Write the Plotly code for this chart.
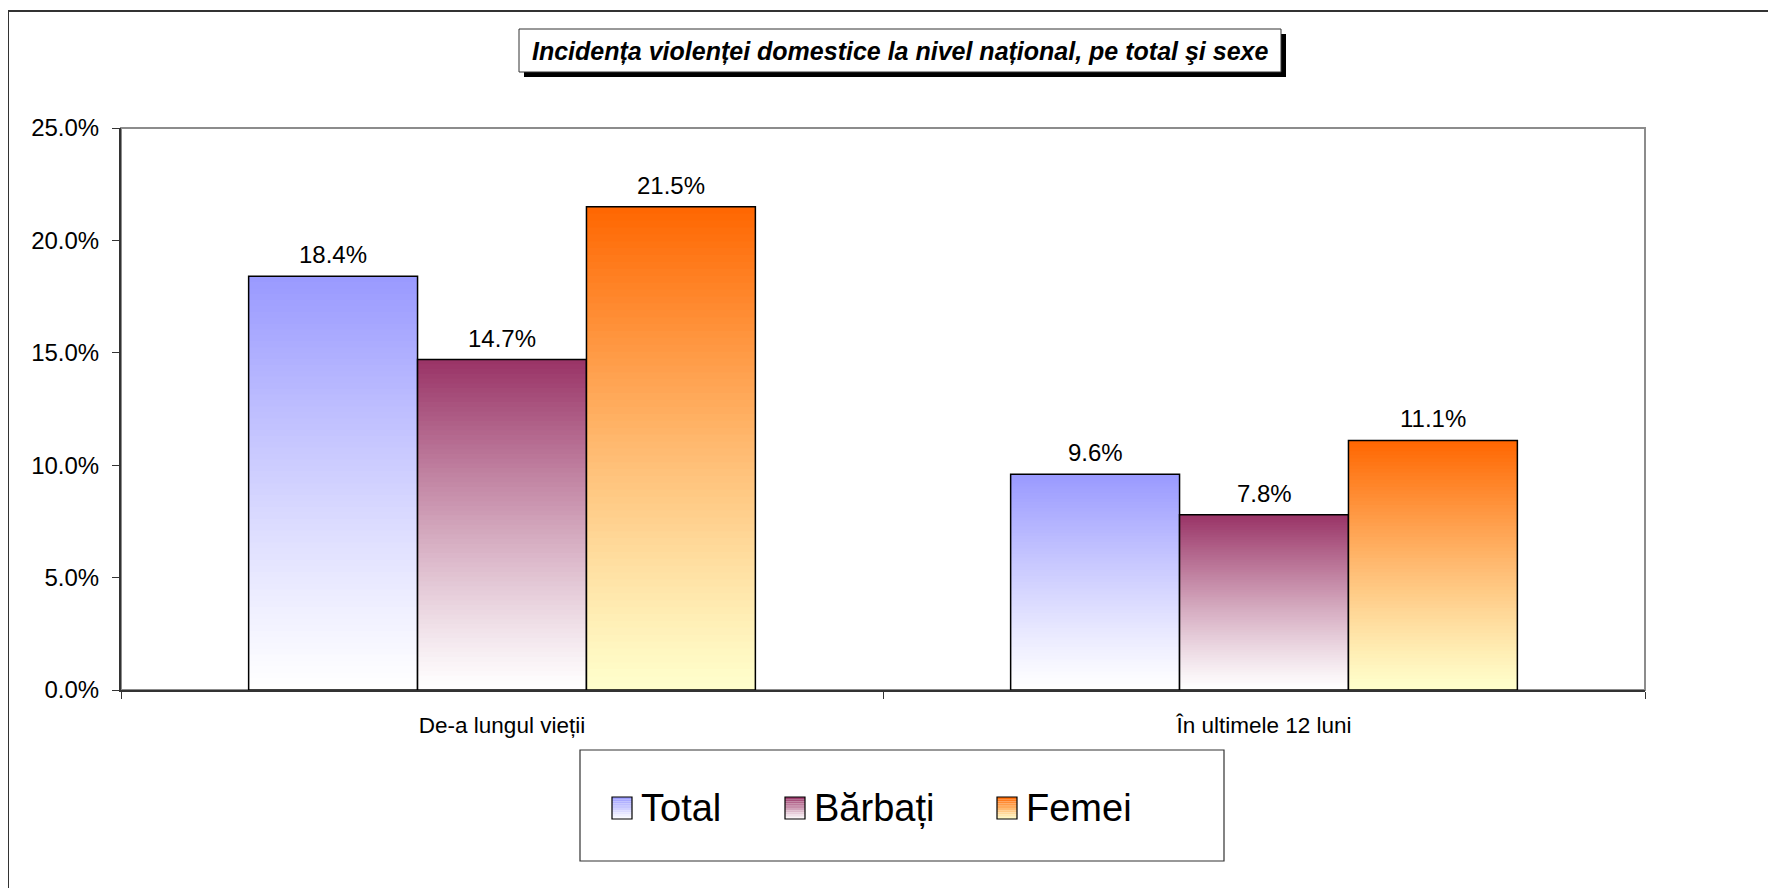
import plotly.graph_objects as go

categories = ["De-a lungul vieții", "În ultimele 12 luni"]
series_names = ["Total", "Bărbați", "Femei"]
total = [0.184, 0.096]
barbati = [0.147, 0.078]
femei = [0.215, 0.111]
y_ticks = [0, 0.05, 0.10, 0.15, 0.20, 0.25]

values = [total, barbati, femei]
top_colors = [(0x99, 0x99, 0xFF), (0x99, 0x33, 0x66), (0xFF, 0x66, 0x00)]
bottom_colors = [(0xFF, 0xFF, 0xFF), (0xFF, 0xFF, 0xFF), (0xFF, 0xFF, 0xCC)]

W, H = 1776, 888
OFF = 8  # page body margin
L, T = 121 - OFF, 128 - OFF
pw, ph = 1524, 562
R, B = W - L - pw, H - T - ph
BARGAP = 0.335


def px(x):
    return (x - OFF - L) / pw


def py(y):
    return (T + ph - (y - OFF)) / ph


def mix(c0, c1, t):
    return "rgb(%d,%d,%d)" % tuple(round(a + (b - a) * t) for a, b in zip(c0, c1))


FONT = "Liberation Sans, Arial, sans-serif"
N = 70
fig = go.Figure()
annotations = []
slot = (1 - BARGAP) / len(series_names)

for s, (name, vals) in enumerate(zip(series_names, values)):
    for k in range(N):
        t = ((k + 0.5) / N) ** 1.15
        bases = [v * k / N for v in vals]
        fig.add_trace(go.Bar(
            x=categories,
            y=[min(2 * v / N, v - b) for v, b in zip(vals, bases)],
            base=bases,
            offsetgroup=str(s),
            marker=dict(color=mix(bottom_colors[s], top_colors[s], t), line=dict(width=0)),
            showlegend=False, hoverinfo="skip",
        ))
    fig.add_trace(go.Bar(
        x=categories, y=vals, offsetgroup=str(s), name=name,
        marker=dict(color="rgba(0,0,0,0)", line=dict(color="black", width=1.5)),
        showlegend=False,
    ))
    for i, v in enumerate(vals):
        annotations.append(dict(
            x=i + (s - 1) * slot, y=v, xref="x", yref="y", text=f"{v * 100:.1f}%",
            showarrow=False, xanchor="center", yanchor="bottom", yshift=6,
            font=dict(size=24, color="black", family=FONT),
        ))

shapes = [
    dict(type="rect", xref="paper", yref="paper", x0=px(8), x1=px(1810), y0=py(11), y1=py(930),
         line=dict(color="#333333", width=2), layer="below"),
    dict(type="rect", xref="paper", yref="paper", x0=px(72), x1=px(79), y0=py(0), y1=py(6),
         fillcolor="black", line=dict(width=0)),
    dict(type="rect", xref="paper", yref="paper", x0=0, x1=1, y0=0, y1=1,
         line=dict(color="#8C8C8C", width=2), layer="below"),
    dict(type="rect", xref="paper", yref="paper", x0=px(524), x1=px(1286), y0=py(34), y1=py(77),
         fillcolor="black", line=dict(width=0)),
    dict(type="rect", xref="paper", yref="paper", x0=px(519), x1=px(1281), y0=py(29), y1=py(72),
         fillcolor="white", line=dict(color="#333333", width=1)),
    dict(type="rect", xref="paper", yref="paper", x0=px(580), x1=px(1224), y0=py(750), y1=py(861),
         fillcolor="white", line=dict(color="#333333", width=1.2), layer="below"),
]

# manual legend with gradient swatches
legend_x = [612, 785, 997]
sw_w, sw_top, sw_bot = 20, 797, 819
STRIPS = 10
for s, name in enumerate(series_names):
    x0 = legend_x[s]
    for k in range(STRIPS):
        yt = sw_top + (sw_bot - sw_top) * k / STRIPS
        yb = sw_top + (sw_bot - sw_top) * (k + 1) / STRIPS
        t = 1 - (k + 0.5) / STRIPS
        shapes.append(dict(type="rect", xref="paper", yref="paper",
                           x0=px(x0), x1=px(x0 + sw_w), y0=py(yb), y1=py(yt),
                           fillcolor=mix(bottom_colors[s], top_colors[s], t), line=dict(width=0)))
    shapes.append(dict(type="rect", xref="paper", yref="paper",
                       x0=px(x0), x1=px(x0 + sw_w), y0=py(sw_bot), y1=py(sw_top),
                       line=dict(color="black", width=1.2)))
    annotations.append(dict(
        x=px(x0 + sw_w + 7), y=py(808), xref="paper", yref="paper", text=name,
        showarrow=False, xanchor="left", yanchor="middle",
        font=dict(size=38, color="black", family=FONT),
    ))

annotations.append(dict(
    text="<b><i>Incidența violenței domestice la nivel național, pe total şi sexe</i></b>",
    xref="paper", yref="paper", x=px(900), y=py(51), xanchor="center", yanchor="middle",
    showarrow=False, font=dict(size=25, color="black", family=FONT),
))

fig.update_layout(
    width=W, height=H,
    margin=dict(l=L, r=R, t=T, b=B),
    paper_bgcolor="white", plot_bgcolor="white",
    barmode="group", bargap=BARGAP, bargroupgap=0,
    font=dict(family=FONT, color="black"),
    shapes=shapes,
    annotations=annotations,
    showlegend=False,
    xaxis=dict(
        showline=True, linecolor="#333333", linewidth=2,
        ticks="outside", tickson="boundaries", ticklen=7, tickcolor="#333333",
        tickfont=dict(size=22.5, family=FONT), ticklabelstandoff=14,
        showgrid=False,
    ),
    yaxis=dict(
        range=[0, 0.25], tickvals=y_ticks, tickformat=".1%",
        showline=True, linecolor="#333333", linewidth=2,
        ticks="outside", ticklen=7, tickcolor="#333333",
        tickfont=dict(size=24, family=FONT), ticklabelstandoff=8,
        showgrid=False, zeroline=False,
    ),
)

fig.write_html("out.html")
